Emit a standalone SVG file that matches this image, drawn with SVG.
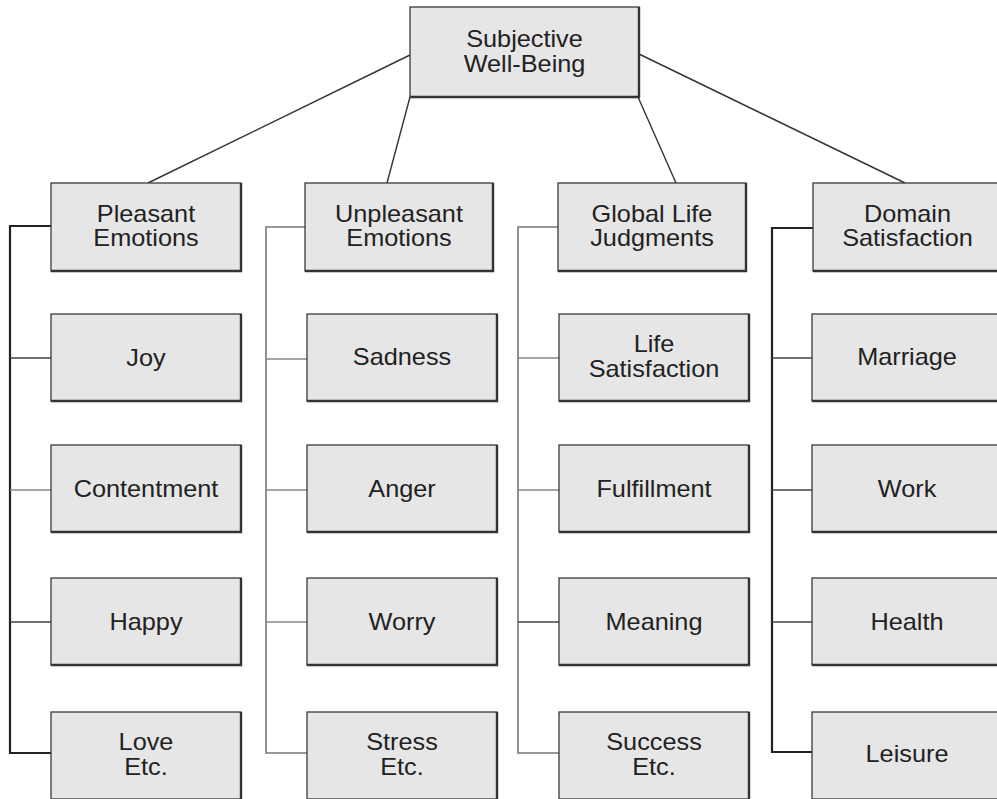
<svg xmlns="http://www.w3.org/2000/svg" width="997" height="799" viewBox="0 0 997 799">
<defs>
<style>
.box{fill:#e6e6e6;stroke:#3a3a3a;stroke-width:1.3}
.sh{fill:none;stroke:#333;stroke-width:2.4}
.lbl{font-family:"Liberation Sans",Arial,sans-serif;font-size:23px;fill:#222;text-anchor:middle}
.ln{stroke:#333;stroke-width:1.4;fill:none}
.vd{stroke:#222;stroke-width:2.2;fill:none}
.vg{stroke:#777;stroke-width:1.6;fill:none}
.hg{stroke:#888;stroke-width:1.5;fill:none}
.hd{stroke:#444;stroke-width:1.5;fill:none}
</style>
</defs>
<rect width="997" height="799" fill="#fff"/>
<g id="connectors">
<line class="ln" x1="410" y1="55" x2="148" y2="183"/>
<line class="ln" x1="410" y1="97" x2="387" y2="183"/>
<line class="ln" x1="638" y1="97" x2="676" y2="183"/>
<line class="ln" x1="639" y1="54" x2="905" y2="183"/>
<path class="vd" d="M51 226H10V753H51"/>
<path class="hd" d="M10 358H51M10 622H51"/>
<path class="hg" d="M10 490H51"/>
<path class="vg" d="M305 227H266V753H307"/>
<path class="hg" d="M266 359H307M266 490H307M266 622H307"/>
<path class="vg" d="M558 227H518V753H559"/>
<path class="hg" d="M518 358H559M518 490H559"/>
<path class="hd" d="M518 622H559"/>
<path class="vd" d="M813 228H772V752H812"/>
<path class="hd" d="M772 358H812M772 490H812M772 622H812"/>
</g>
<g id="swb"><rect class="box" x="410" y="7" width="229" height="90"/><path class="sh" d="M639 7V97H410"/><text class="lbl" transform="matrix(1.1 0 0 1 524.5 0)" x="0" y="47">Subjective</text><text class="lbl" transform="matrix(1.1 0 0 1 524.5 0)" x="0" y="72">Well-Being</text></g>
<g id="pleasant"><rect class="box" x="51" y="183" width="190" height="88"/><path class="sh" d="M241 183V271H51"/><text class="lbl" transform="matrix(1.1 0 0 1 146 0)" x="0" y="222">Pleasant</text><text class="lbl" transform="matrix(1.1 0 0 1 146 0)" x="0" y="246">Emotions</text></g>
<g id="unpleasant"><rect class="box" x="305" y="183" width="188" height="88"/><path class="sh" d="M493 183V271H305"/><text class="lbl" transform="matrix(1.1 0 0 1 399 0)" x="0" y="222">Unpleasant</text><text class="lbl" transform="matrix(1.1 0 0 1 399 0)" x="0" y="246">Emotions</text></g>
<g id="global"><rect class="box" x="558" y="183" width="188" height="88"/><path class="sh" d="M746 183V271H558"/><text class="lbl" transform="matrix(1.1 0 0 1 652 0)" x="0" y="222">Global Life</text><text class="lbl" transform="matrix(1.1 0 0 1 652 0)" x="0" y="246">Judgments</text></g>
<g id="domain"><rect class="box" x="813" y="183" width="189" height="88"/><path class="sh" d="M1002 183V271H813"/><text class="lbl" transform="matrix(1.1 0 0 1 907.5 0)" x="0" y="222">Domain</text><text class="lbl" transform="matrix(1.1 0 0 1 907.5 0)" x="0" y="246">Satisfaction</text></g>

<g id="joy"><rect class="box" x="51" y="314" width="190" height="87"/><path class="sh" d="M241 314V401H51"/><text class="lbl" transform="matrix(1.1 0 0 1 146 0)" x="0" y="366">Joy</text></g>
<g id="contentment"><rect class="box" x="51" y="445" width="190" height="87"/><path class="sh" d="M241 445V532H51"/><text class="lbl" transform="matrix(1.1 0 0 1 146 0)" x="0" y="497">Contentment</text></g>
<g id="happy"><rect class="box" x="51" y="578" width="190" height="87"/><path class="sh" d="M241 578V665H51"/><text class="lbl" transform="matrix(1.1 0 0 1 146 0)" x="0" y="630">Happy</text></g>
<g id="love"><rect class="box" x="51" y="712" width="190" height="87"/><path class="sh" d="M241 712V799"/><text class="lbl" transform="matrix(1.1 0 0 1 146 0)" x="0" y="750">Love</text><text class="lbl" transform="matrix(1.1 0 0 1 146 0)" x="0" y="775">Etc.</text></g>

<g id="sadness"><rect class="box" x="307" y="314" width="190" height="87"/><path class="sh" d="M497 314V401H307"/><text class="lbl" transform="matrix(1.1 0 0 1 402 0)" x="0" y="365">Sadness</text></g>
<g id="anger"><rect class="box" x="307" y="445" width="190" height="87"/><path class="sh" d="M497 445V532H307"/><text class="lbl" transform="matrix(1.1 0 0 1 402 0)" x="0" y="497">Anger</text></g>
<g id="worry"><rect class="box" x="307" y="578" width="190" height="87"/><path class="sh" d="M497 578V665H307"/><text class="lbl" transform="matrix(1.1 0 0 1 402 0)" x="0" y="630">Worry</text></g>
<g id="stress"><rect class="box" x="307" y="712" width="190" height="87"/><path class="sh" d="M497 712V799"/><text class="lbl" transform="matrix(1.1 0 0 1 402 0)" x="0" y="750">Stress</text><text class="lbl" transform="matrix(1.1 0 0 1 402 0)" x="0" y="775">Etc.</text></g>

<g id="lifesat"><rect class="box" x="559" y="314" width="190" height="87"/><path class="sh" d="M749 314V401H559"/><text class="lbl" transform="matrix(1.1 0 0 1 654 0)" x="0" y="352">Life</text><text class="lbl" transform="matrix(1.1 0 0 1 654 0)" x="0" y="377">Satisfaction</text></g>
<g id="fulfillment"><rect class="box" x="559" y="445" width="190" height="87"/><path class="sh" d="M749 445V532H559"/><text class="lbl" transform="matrix(1.1 0 0 1 654 0)" x="0" y="497">Fulfillment</text></g>
<g id="meaning"><rect class="box" x="559" y="578" width="190" height="87"/><path class="sh" d="M749 578V665H559"/><text class="lbl" transform="matrix(1.1 0 0 1 654 0)" x="0" y="630">Meaning</text></g>
<g id="success"><rect class="box" x="559" y="712" width="190" height="87"/><path class="sh" d="M749 712V799"/><text class="lbl" transform="matrix(1.1 0 0 1 654 0)" x="0" y="750">Success</text><text class="lbl" transform="matrix(1.1 0 0 1 654 0)" x="0" y="775">Etc.</text></g>

<g id="marriage"><rect class="box" x="812" y="314" width="190" height="87"/><path class="sh" d="M1002 401H812"/><text class="lbl" transform="matrix(1.1 0 0 1 907 0)" x="0" y="365">Marriage</text></g>
<g id="work"><rect class="box" x="812" y="445" width="190" height="87"/><path class="sh" d="M1002 532H812"/><text class="lbl" transform="matrix(1.1 0 0 1 907 0)" x="0" y="497">Work</text></g>
<g id="health"><rect class="box" x="812" y="578" width="190" height="87"/><path class="sh" d="M1002 665H812"/><text class="lbl" transform="matrix(1.1 0 0 1 907 0)" x="0" y="630">Health</text></g>
<g id="leisure"><rect class="box" x="812" y="712" width="190" height="87"/><text class="lbl" transform="matrix(1.1 0 0 1 907 0)" x="0" y="762">Leisure</text></g>
</svg>
